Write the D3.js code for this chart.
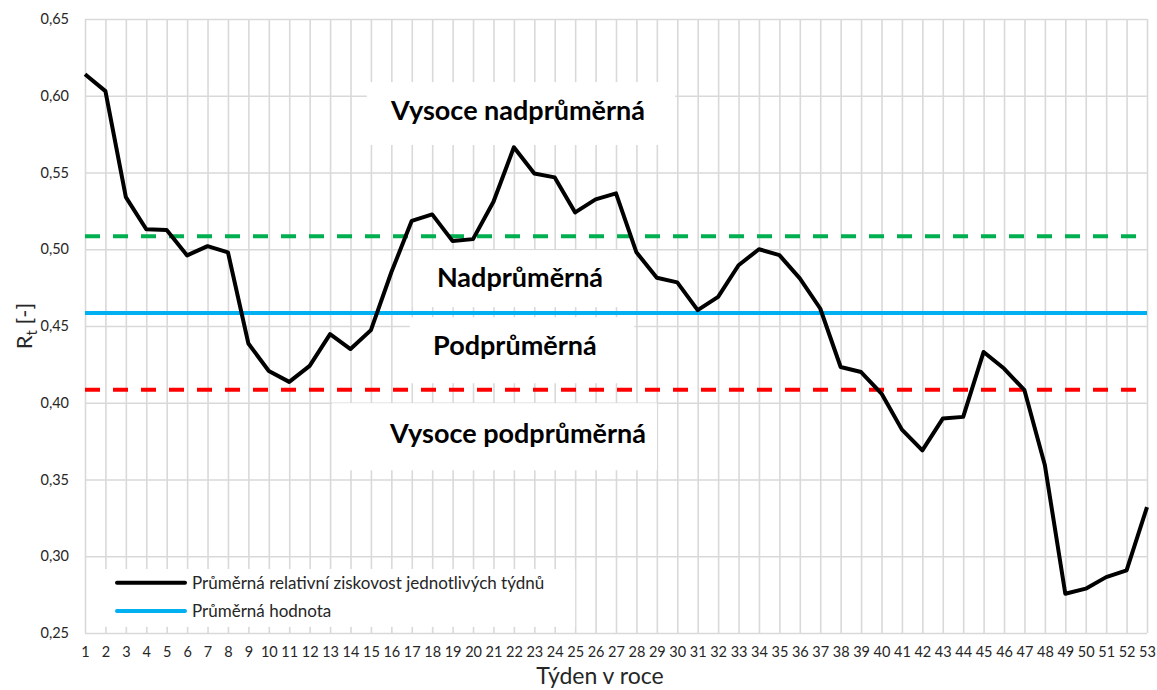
<!DOCTYPE html>
<html>
<head>
<meta charset="utf-8">
<script src="https://cdn.jsdelivr.net/npm/d3@7"></script>
<style>
  body { margin: 0; background: #fff; }
  svg text { font-family: Lato, "Noto Sans", sans-serif; }
  .grid line { stroke: #d9d9d9; stroke-width: 1.6; }
  .grid path { display: none; }
  .lbl text { font-size: 14.5px; fill: #262626; }
  .lbl path, .lbl line { display: none; }
</style>
</head>
<body>
<script>
const weeks = d3.range(1, 54);
const values = [
  0.614, 0.603, 0.534, 0.513, 0.5125, 0.496, 0.502, 0.498, 0.4386, 0.4207,
  0.4136, 0.424, 0.4447, 0.435, 0.4473, 0.485, 0.5185, 0.5227, 0.5053, 0.5066,
  0.5309, 0.5664, 0.5494, 0.5468, 0.524, 0.5325, 0.5364, 0.498, 0.4814, 0.4784,
  0.4603, 0.469, 0.4896, 0.500, 0.4962, 0.481, 0.4614, 0.4233, 0.420, 0.406,
  0.3825, 0.369, 0.3897, 0.3908, 0.4331, 0.4223, 0.4082, 0.3593, 0.2756, 0.2789,
  0.2864, 0.2908, 0.332
];
const yTicks = [0.25, 0.30, 0.35, 0.40, 0.45, 0.50, 0.55, 0.60, 0.65];
const meanValue = 0.4585;
const upperLimit = 0.5085;
const lowerLimit = 0.4085;
const legendLabels = ['Průměrná relativní ziskovost jednotlivých týdnů', 'Průměrná hodnota'];
const zoneLabels = ['Vysoce nadprůměrná', 'Nadprůměrná', 'Podprůměrná', 'Vysoce podprůměrná'];

const w = 1157, h = 690;
const mLeft = 85, mRight = 1147, mTop = 19, mBottom = 633;

const svg = d3.select('body').append('svg')
  .attr('width', w).attr('height', h);

const x = d3.scaleLinear().domain([1, 53]).range([mLeft, mRight]);
const y = d3.scaleLinear().domain([0.25, 0.65]).range([mBottom, mTop]);
const fmt = d => d3.format('.2f')(d).replace('.', ',');

// gridlines
svg.append('g').attr('class', 'grid')
  .attr('transform', 'translate(0,' + mBottom + ')')
  .call(d3.axisBottom(x).tickValues(weeks).tickSize(-(mBottom - mTop)).tickFormat(''));
svg.append('g').attr('class', 'grid')
  .attr('transform', 'translate(' + mLeft + ',0)')
  .call(d3.axisLeft(y).tickValues(yTicks).tickSize(-(mRight - mLeft)).tickFormat(''));

// tick labels
svg.append('g').attr('class', 'lbl')
  .attr('transform', 'translate(0,' + mBottom + ')')
  .call(d3.axisBottom(x).tickValues(weeks).tickSize(0).tickPadding(14).tickFormat(d3.format('d')));
svg.append('g').attr('class', 'lbl')
  .attr('transform', 'translate(' + mLeft + ',0)')
  .call(d3.axisLeft(y).tickValues(yTicks).tickSize(0).tickPadding(16).tickFormat(fmt));

// zone label boxes (white, covering grid)
const boxes = [
  {x0: 14.8, x1: 29.9, y0: 0.6089, y1: 0.5679, tx: 22.2, ty: 0.5842},
  {x0: 17.05, x1: 27.9, y0: 0.4994, y1: 0.4623, tx: 22.3, ty: 0.4753},
  {x0: 16.9, x1: 27.9, y0: 0.4557, y1: 0.4127, tx: 22.05, ty: 0.431},
  {x0: 13.1, x1: 29.0, y0: 0.3997, y1: 0.356, tx: 22.2, ty: 0.3736}
];
boxes.forEach((b, i) => {
  svg.append('rect')
    .attr('x', x(b.x0)).attr('y', y(b.y0))
    .attr('width', x(b.x1) - x(b.x0)).attr('height', y(b.y1) - y(b.y0))
    .attr('fill', '#fff');
  svg.append('text')
    .attr('x', x(b.tx)).attr('y', y(b.ty))
    .attr('text-anchor', 'middle')
    .attr('font-size', 27).attr('font-weight', 'bold').attr('fill', '#000')
    .text(zoneLabels[i]);
});

// legend box
svg.append('rect')
  .attr('x', x(1.6)).attr('y', y(0.2917))
  .attr('width', x(25) - x(1.6)).attr('height', y(0.2540) - y(0.2917))
  .attr('fill', '#fff');

// threshold lines
const hline = (v, color, dash) => svg.append('line')
  .attr('x1', x(1)).attr('x2', x(53))
  .attr('y1', y(v)).attr('y2', y(v))
  .attr('stroke', color).attr('stroke-width', 4)
  .attr('stroke-dasharray', dash);
hline(upperLimit, '#00b050', '15,13');
hline(lowerLimit, '#ff0000', '15,13');
hline(meanValue, '#00b0f0', null);

// main series
const line = d3.line().x((d, i) => x(weeks[i])).y(d => y(d));
svg.append('path').datum(values)
  .attr('d', line)
  .attr('fill', 'none').attr('stroke', '#000').attr('stroke-width', 4)
  .attr('stroke-linejoin', 'round');

// legend
const legendColors = ['#000', '#00b0f0'];
legendLabels.forEach((t, i) => {
  const ly = 582.7 + i * 28.3;
  svg.append('line')
    .attr('x1', 117).attr('x2', 185).attr('y1', ly).attr('y2', ly)
    .attr('stroke', legendColors[i]).attr('stroke-width', 4)
    .attr('stroke-linecap', 'round');
  svg.append('text')
    .attr('x', 192).attr('y', ly + 6)
    .attr('font-size', 17).attr('fill', '#262626')
    .text(t);
});

// axis titles
svg.append('text')
  .attr('x', 600).attr('y', 684)
  .attr('text-anchor', 'middle').attr('font-size', 23).attr('fill', '#262626')
  .text('Týden v roce');

const yt = svg.append('text')
  .attr('transform', 'translate(32,' + 326 + ') rotate(-90)')
  .attr('text-anchor', 'middle').attr('font-size', 22).attr('fill', '#262626');
yt.append('tspan').text('R');
yt.append('tspan').attr('font-size', 15).attr('dy', 5).text('t');
yt.append('tspan').attr('dy', -5).text(' [-]');
</script>
</body>
</html>
